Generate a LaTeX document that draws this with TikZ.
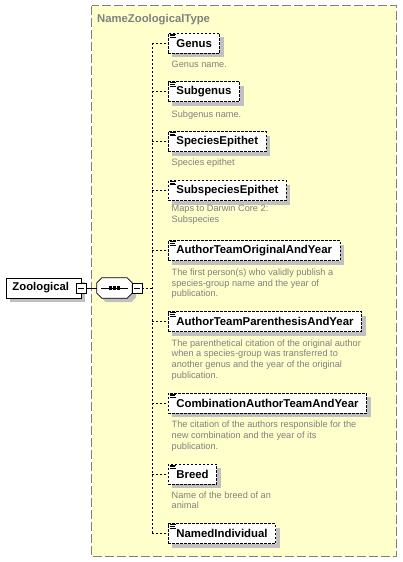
\documentclass[tikz,border=0pt]{standalone}
\usepackage{fontspec}
\setmainfont{Liberation Sans}
\usetikzlibrary{shadows}
\definecolor{zyellow}{RGB}{255,255,204}
\definecolor{zgray}{RGB}{128,128,128}
\definecolor{zshadow}{RGB}{192,192,192}
\tikzset{
  sh/.style={drop shadow={shadow xshift=4pt,shadow yshift=-4pt,fill=zshadow,opacity=1}},
  elem/.style={draw,dash pattern=on 2.5pt off 1.5pt,fill=white,line width=0.8pt,
    font=\fontsize{11.4}{13}\selectfont\bfseries,inner xsep=8pt,inner ysep=0pt,
    minimum height=20pt,anchor=west,sh},
  desc/.style={anchor=base west,align=left,inner sep=0pt,text=zgray,
    font=\fontsize{9.2}{10.7}\selectfont},
  conn/.style={line width=0.8pt,dash pattern=on 2pt off 2pt},
  minusbox/.style={draw,fill=white,line width=0.8pt,minimum size=10pt,inner sep=0pt,
    path picture={\draw[line width=0.8pt] ([xshift=2pt]path picture bounding box.west) -- ++(6pt,0);}},
  zbox/.style={draw,fill=white,line width=0.8pt,minimum width=75pt,minimum height=20pt,
    inner sep=0pt,font=\fontsize{11.3}{13}\selectfont\bfseries,sh},
  seqbox/.style={minimum width=35pt,minimum height=20pt,inner sep=0pt},
  icon/.style={line width=0.7pt}
}
\begin{document}
\begin{tikzpicture}[x=1pt,y=-1pt]
\useasboundingbox (0,0) rectangle (402,562);
% group background
\draw[zgray,dash pattern=on 9pt off 3pt,fill=zyellow,line width=1pt] (91.5,5.5) rectangle (396,556.5);
\node[anchor=base west,inner sep=0pt,text=zgray,font=\fontsize{11.3}{13}\selectfont\bfseries] (title) at (97,22.5) {NameZoologicalType};

% root element
\node[zbox,text width=62pt,align=left] (zoo) at (43.5,288) {Zoological};
\node[minusbox] (zm) at (81,288) {};
\node[seqbox] (seq) at (114.5,288) {};
\fill[zshadow] ([shift={(9pt,-4pt)}]seq.north west) -- ([shift={(-1pt,-4pt)}]seq.north east)
  -- ([shift={(4pt,-9pt)}]seq.north east) -- ([shift={(4pt,1pt)}]seq.south east)
  -- ([shift={(-1pt,-4pt)}]seq.south east) -- ([shift={(9pt,-4pt)}]seq.south west)
  -- ([shift={(4pt,1pt)}]seq.south west) -- ([shift={(4pt,-9pt)}]seq.north west) -- cycle;
\draw[line width=0.8pt,fill=white] ([xshift=5pt]seq.north west) -- ([xshift=-5pt]seq.north east)
  -- ([yshift=-5pt]seq.north east) -- ([yshift=5pt]seq.south east)
  -- ([xshift=-5pt]seq.south east) -- ([xshift=5pt]seq.south west)
  -- ([yshift=5pt]seq.south west) -- ([yshift=-5pt]seq.north west) -- cycle;
\draw[line width=0.8pt] ([xshift=-13.5pt]seq.center) -- ([xshift=13.5pt]seq.center);
\foreach \dx in {-4,0,4} \fill ([xshift=\dx pt]seq.center) ++(-1.6pt,-1.6pt) rectangle ++(3.2pt,3.2pt);
\node[minusbox] (sm) at (137,288) {};
\draw[line width=0.8pt] (zm.east) -- (seq.west);

% children
\node[elem] (genus) at (168,43.3) {Genus};
\node[elem] (subgenus) at (168,91.7) {Subgenus};
\node[elem] (species) at (168,141.5) {SpeciesEpithet};
\node[elem] (subspecies) at (168,190.5) {SubspeciesEpithet};
\node[elem] (ato) at (168,250.7) {AuthorTeamOriginalAndYear};
\node[elem] (atp) at (168,321.7) {AuthorTeamParenthesisAndYear};
\node[elem] (cat) at (168,403.3) {CombinationAuthorTeamAndYear};
\node[elem] (breed) at (168,474.3) {Breed};
\node[elem] (named) at (168,533.8) {NamedIndividual};

\foreach \n in {genus,subgenus,species,subspecies,ato,atp,cat,breed,named}{
  \draw[icon] ([xshift=1.5pt,yshift=-1.2pt]\n.north west) -- ++(6pt,0);
  \draw[icon] ([xshift=1.5pt,yshift=-2.9pt]\n.north west) -- ++(5pt,0);
  \draw[icon] ([xshift=1.5pt,yshift=-4.6pt]\n.north west) -- ++(6pt,0);
}

% descriptions (base anchor = baseline of the last line)
\node[desc] (dgenus) at (171.5,67) {Genus name.};
\node[desc] (dsubgenus) at (171.5,117) {Subgenus name.};
\node[desc] (dspecies) at (171.5,165.5) {Species epithet};
\node[desc] (dsubspecies) at (171.5,222.2) {Maps to Darwin Core 2:\\Subspecies};
\node[desc] (dato) at (171.5,296.9) {The first person(s) who validly publish a\\species-group name and the year of\\publication.};
\node[desc] (datp) at (171.5,378.1) {The parenthetical citation of the original author\\when a species-group was transferred to\\another genus and the year of the original\\publication.};
\node[desc] (dcat) at (171.5,449.1) {The citation of the authors responsible for the\\new combination and the year of its\\publication.};
\node[desc] (dbreed) at (171.5,508.7) {Name of the breed of an\\animal};

% connectors
\coordinate (vtop) at (152,43.3);
\coordinate (vbot) at (152,533.8);
\draw[conn] (vtop) -- (vbot);
\draw[conn] (sm.east) -- (sm.east -| vtop);
\foreach \n in {genus,subgenus,species,subspecies,ato,atp,cat,breed,named}
  \draw[conn] (\n.west -| vtop) -- (\n.west);
\end{tikzpicture}
\end{document}
